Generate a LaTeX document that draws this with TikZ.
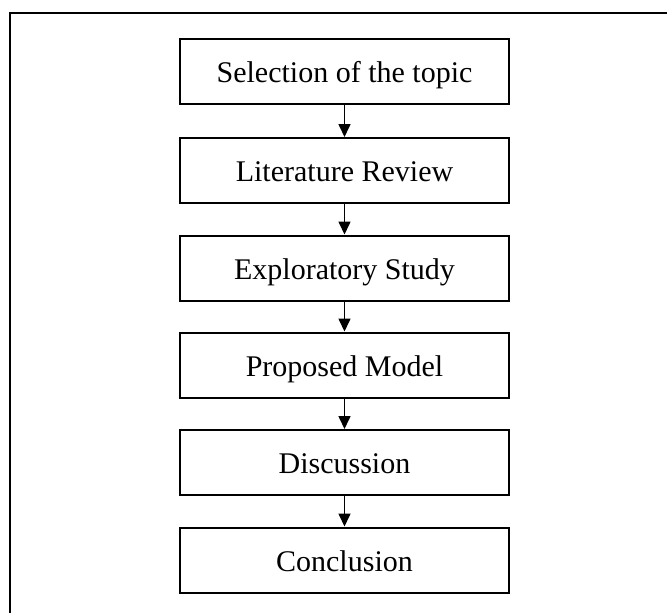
\documentclass[tikz,border=0pt]{standalone}
\usepackage{fontspec}
\setmainfont{Liberation Serif}
\usetikzlibrary{arrows.meta}
\tikzset{
  stepbox/.style={draw=black, line width=2pt, minimum width=329pt, minimum height=65pt, inner sep=0pt, text height=22pt, text depth=0pt, font=\fontsize{30}{36}\selectfont},
  flowarrow/.style={draw=black, line width=1.6pt, -{Triangle[width=12pt,length=13pt]}},
  frame/.style={draw=black, line width=2.5pt}
}
\begin{document}
\begin{tikzpicture}[x=1pt,y=-1pt]
\useasboundingbox (0,0) rectangle (667,613);
\draw[frame] (10,613) -- (10,13) -- (667,13);
\node[stepbox] (n1) at (344.5,71.5) {Selection of the topic};
\node[stepbox] (n2) at (344.5,170.5) {Literature Review};
\node[stepbox] (n3) at (344.5,268) {Exploratory Study};
\node[stepbox] (n4) at (344.5,365) {Proposed Model};
\node[stepbox] (n5) at (344.5,462.5) {Discussion};
\node[stepbox] (n6) at (344.5,560) {Conclusion};
\draw[flowarrow] (n1) -- (n2);
\draw[flowarrow] (n2) -- (n3);
\draw[flowarrow] (n3) -- (n4);
\draw[flowarrow] (n4) -- (n5);
\draw[flowarrow] (n5) -- (n6);
\end{tikzpicture}
\end{document}
